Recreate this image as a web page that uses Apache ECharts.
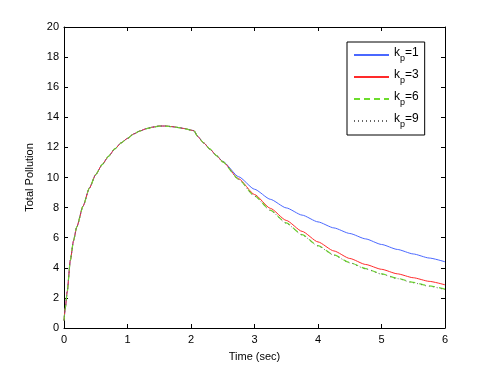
<!DOCTYPE html>
<html>
<head>
<meta charset="utf-8">
<script src="https://cdn.jsdelivr.net/npm/echarts@6/dist/echarts.min.js"></script>
<style>
  html, body { margin: 0; padding: 0; background: #fff; }
  #chart { width: 491px; height: 369px; }
</style>
</head>
<body>
<div id="chart"></div>
<script>
// time axis (sec)
var times = [0, 0.02, 0.05, 0.1, 0.15, 0.2, 0.3, 0.4, 0.5, 0.6, 0.7, 0.8, 0.9, 1.0, 1.1, 1.2, 1.3, 1.4, 1.5, 1.6, 1.7, 1.8, 1.9, 2.0, 2.05,
             2.1, 2.2, 2.3, 2.4, 2.5, 2.75, 3.0, 3.25, 3.5, 3.75, 4.0, 4.25, 4.5, 4.75, 5.0, 5.25, 5.5, 5.75, 6.0];

// shared part (same for every kp) up to t = 2.4
var rising = [0.5, 1.3, 2.4, 4.5, 5.8, 6.7, 8.1, 9.3, 10.2, 10.85, 11.4, 11.9, 12.3, 12.6, 12.9, 13.1, 13.25, 13.35, 13.42, 13.42, 13.38, 13.32, 13.25, 13.15, 13.1,
              12.75, 12.3, 11.88, 11.46];

// decay part for t >= 2.5
var kp1Tail = [11.07, 10.05, 9.22, 8.55, 7.98, 7.5, 7.05, 6.65, 6.28, 5.92, 5.55, 5.22, 4.92, 4.65, 4.4];
var kp3Tail = [11.05, 9.92, 8.87, 7.95, 7.15, 6.42, 5.72, 5.12, 4.62, 4.22, 3.9, 3.6, 3.34, 3.1, 2.87];
var kp6Tail = [11.04, 9.88, 8.78, 7.83, 6.98, 6.2, 5.47, 4.86, 4.35, 3.95, 3.6, 3.3, 3.03, 2.8, 2.58];
var kp9Tail = [11.04, 9.87, 8.76, 7.81, 6.96, 6.18, 5.45, 4.84, 4.33, 3.93, 3.58, 3.28, 3.0, 2.77, 2.55];

var seriesNames = ['kp=1', 'kp=3', 'kp=6', 'kp=9'];

function buildPoints(tail) {
    var vals = rising.concat(tail);
    return times.map(function (t, i) { return [t, vals[i]]; });
}

var chart = echarts.init(document.getElementById('chart'));

var axisFont = { fontFamily: 'Liberation Sans, Arial, sans-serif', fontSize: 11, color: '#000' };

function makeSeries(name, tail, color, type, width) {
    return {
        name: name,
        type: 'line',
        data: buildPoints(tail),
        smooth: 0.2,
        smoothMonotone: 'x',
        showSymbol: false,
        symbol: 'none',
        animation: false,
        lineStyle: { color: color, width: width, type: type },
        itemStyle: { color: color }
    };
}

var option = {
    backgroundColor: '#fff',
    animation: false,
    grid: { left: 64, right: 46, top: 27, bottom: 41 },
    legend: {
        orient: 'vertical',
        left: 347,
        top: 42,
        width: 75,
        padding: [5, 6, 6, 6],
        itemGap: 6,
        itemWidth: 35,
        itemHeight: 14,
        borderColor: '#000',
        borderWidth: 1,
        backgroundColor: '#fff',
        itemStyle: { opacity: 0 },
        data: seriesNames,
        formatter: function (name) {
            return '{a|k}{b|p}{a|' + name.slice(2) + '}';
        },
        textStyle: {
            rich: {
                a: { fontFamily: 'Liberation Sans, Arial, sans-serif', fontSize: 12, color: '#000', lineHeight: 16, verticalAlign: 'top' },
                b: { fontFamily: 'Liberation Sans, Arial, sans-serif', fontSize: 9, color: '#000', lineHeight: 16, verticalAlign: 'bottom', padding: [6, 0, 0, 0] }
            }
        }
    },
    xAxis: [
        {
            type: 'value', min: 0, max: 6, interval: 1,
            name: 'Time (sec)', nameLocation: 'middle', nameGap: 23,
            nameTextStyle: axisFont,
            axisLine: { lineStyle: { color: '#000', width: 1 } },
            axisTick: { inside: true, length: 4, lineStyle: { color: '#000' } },
            axisLabel: Object.assign({ margin: 6 }, axisFont),
            splitLine: { show: false }
        },
        {
            type: 'value', min: 0, max: 6, interval: 1, position: 'top',
            axisLine: { show: true, onZero: false, lineStyle: { color: '#000', width: 1 } },
            axisTick: { inside: true, length: 4, lineStyle: { color: '#000' } },
            axisLabel: { show: false },
            splitLine: { show: false }
        }
    ],
    yAxis: [
        {
            type: 'value', min: 0, max: 20, interval: 2,
            name: 'Total Pollution', nameLocation: 'middle', nameGap: 24,
            nameTextStyle: axisFont,
            axisLine: { show: true, lineStyle: { color: '#000', width: 1 } },
            axisTick: { show: true, inside: true, length: 4, lineStyle: { color: '#000' } },
            axisLabel: Object.assign({ margin: 5 }, axisFont),
            splitLine: { show: false }
        },
        {
            type: 'value', min: 0, max: 20, interval: 2, position: 'right',
            axisLine: { show: true, onZero: false, lineStyle: { color: '#000', width: 1 } },
            axisTick: { show: true, inside: true, length: 4, lineStyle: { color: '#000' } },
            axisLabel: { show: false },
            splitLine: { show: false }
        }
    ],
    series: [
        makeSeries(seriesNames[0], kp1Tail, '#4a68ff', 'solid', 1),
        makeSeries(seriesNames[1], kp3Tail, '#ff2a2a', 'solid', 1),
        makeSeries(seriesNames[2], kp6Tail, '#6cdc2c', [6, 4], 1.2),
        makeSeries(seriesNames[3], kp9Tail, '#666666', [1, 3], 1)
    ]
};

chart.setOption(option);
</script>
</body>
</html>
